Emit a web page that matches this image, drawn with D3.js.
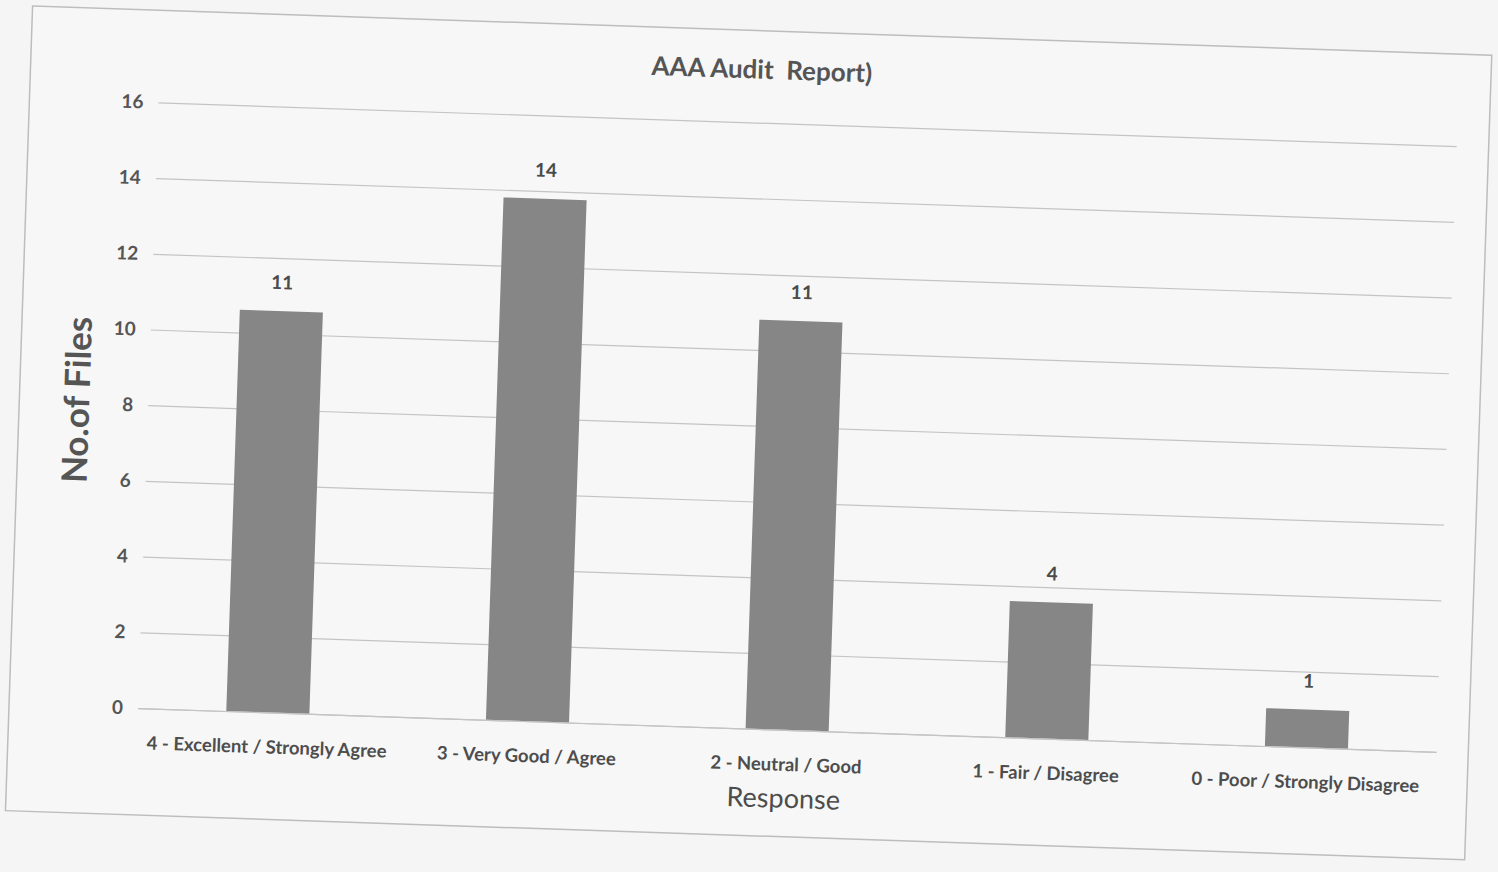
<!DOCTYPE html>
<html>
<head>
<meta charset="utf-8">
<script src="https://cdn.jsdelivr.net/npm/d3@7"></script>
<style>
  body { margin: 0; background: #f5f5f5; }
  svg { display: block; }
  text { font-family: Lato, "Open Sans", sans-serif; white-space: pre; }
</style>
</head>
<body>
<svg id="chart" width="1498" height="872"></svg>
<script>
const categories = [
  "4 - Excellent / Strongly Agree",
  "3 - Very Good / Agree",
  "2 - Neutral / Good",
  "1 - Fair / Disagree",
  "0 - Poor / Strongly Disagree"
];
const values = [10.6, 13.8, 10.8, 3.6, 1.0];
const yTicks = [0, 2, 4, 6, 8, 10, 12, 14, 16];

const svg = d3.select('#chart');
const textColor = '#555555';

// the scanned chart sits tilted by about 2 degrees
const g = svg.append('g')
  .attr('transform', 'rotate(1.93, 137, 708)');

g.append('rect')
  .attr('x', 9)
  .attr('y', 10)
  .attr('width', 1460)
  .attr('height', 805)
  .attr('fill', '#f7f7f7')
  .attr('stroke', '#bdbdbd')
  .attr('stroke-width', 1.5);

const x = d3.scaleBand()
  .domain(categories)
  .range([138, 1437])
  .paddingInner(0.68)
  .paddingOuter(0.34);

const y = d3.scaleLinear()
  .domain([0, 16])
  .range([708, 102]);

// gridlines + tick labels
const yAxis = g.append('g')
  .attr('transform', 'translate(138,0)')
  .call(d3.axisLeft(y).tickValues(yTicks).tickSize(-(1437 - 138)).tickPadding(15));

yAxis.select('.domain').remove();
yAxis.selectAll('.tick line')
  .attr('stroke', '#c4c4c4')
  .attr('stroke-width', 1.2);
yAxis.selectAll('.tick text')
  .attr('fill', textColor)
  .attr('font-size', '19px')
  .attr('font-weight', 700);

// bars
g.selectAll('.bar')
  .data(values)
  .join('rect')
  .attr('class', 'bar')
  .attr('x', (d, i) => x(categories[i]))
  .attr('y', d => y(d))
  .attr('width', x.bandwidth())
  .attr('height', d => y(0) - y(d))
  .attr('fill', '#868686');

// data labels
g.selectAll('.bar-label')
  .data(values)
  .join('text')
  .attr('class', 'bar-label')
  .attr('x', (d, i) => x(categories[i]) + x.bandwidth() / 2)
  .attr('y', d => y(d) - 22)
  .attr('text-anchor', 'middle')
  .attr('font-size', '19px')
  .attr('font-weight', 700)
  .attr('fill', '#4a4a4a')
  .text(d => d3.format('.0f')(d));

// category labels
const xAxis = g.append('g')
  .attr('transform', 'translate(0,708)')
  .call(d3.axisBottom(x).tickSize(0).tickPadding(28));

xAxis.select('.domain')
  .attr('stroke', '#c4c4c4')
  .attr('stroke-width', 1.2);
xAxis.selectAll('.tick text')
  .attr('fill', '#4d4d4d')
  .attr('font-size', '18.5px')
  .attr('font-weight', 700);

// titles
g.append('text')
  .attr('x', 740)
  .attr('y', 58)
  .attr('text-anchor', 'middle')
  .attr('font-size', '26px')
  .attr('font-weight', 700)
  .attr('fill', textColor)
  .text('AAA Audit  Report)');

g.append('text')
  .attr('transform', 'translate(79,402) rotate(-90)')
  .attr('text-anchor', 'middle')
  .attr('font-size', '35px')
  .attr('font-weight', 700)
  .attr('fill', textColor)
  .text('No.of Files');

g.append('text')
  .attr('x', 786)
  .attr('y', 786)
  .attr('text-anchor', 'middle')
  .attr('font-size', '27px')
  .attr('fill', '#4d4d4d')
  .text('Response');
</script>
</body>
</html>
